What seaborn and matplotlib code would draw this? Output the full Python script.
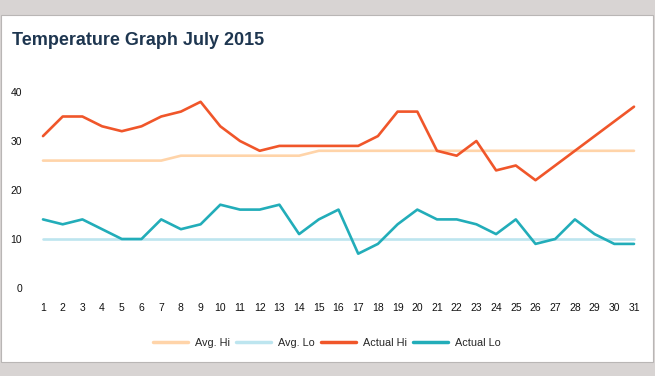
import matplotlib
matplotlib.use("Agg")
import matplotlib.pyplot as plt
import seaborn as sns
import pandas as pd
from matplotlib.patches import Rectangle
from matplotlib.lines import Line2D

days = list(range(1, 32))
avg_hi = [26]*7 + [27]*7 + [28]*17
avg_lo = [10]*31
actual_hi = [31, 35, 35, 33, 32, 33, 35, 36, 38, 33, 30, 28, 29, 29, 29, 29, 29,
             31, 36, 36, 28, 27, 30, 24, 25, 22, 25, 28, 31, 34, 37]
actual_lo = [14, 13, 14, 12, 10, 10, 14, 12, 13, 17, 16, 16, 17, 11, 14, 16, 7,
             9, 13, 16, 14, 14, 13, 11, 14, 9, 10, 14, 11, 9, 9]
series_names = ["Avg. Hi", "Avg. Lo", "Actual Hi", "Actual Lo"]
colors = ["#ffd4a9", "#bde5ef", "#f0562a", "#22adb9"]
y_ticks = [0, 10, 20, 30, 40]

rows = []
for name, vals in zip(series_names, [avg_hi, avg_lo, actual_hi, actual_lo]):
    for d, v in zip(days, vals):
        rows.append({"day": d, "temp": v, "series": name})
df = pd.DataFrame(rows)

sns.set_theme(style="white")
plt.rcParams["font.family"] = ["Liberation Sans", "DejaVu Sans"]

W, H = 655, 376
fig = plt.figure(figsize=(W/100, H/100), dpi=100)
fig.patch.set_facecolor("#d8d4d3")
# white card
card = Rectangle((0.5/W, 1 - 362/H), 652.5/W, (362-15)/H,
                 transform=fig.transFigure, facecolor="white",
                 edgecolor="#b9b6b5", linewidth=0.8, zorder=-10)
fig.add_artist(card)

x0, x1 = 43, 634
ppd = (x1 - x0) / 30
left = (x0 - 0.5*ppd) / W
width = (31*ppd) / W
y0px, y40px = 288, 92
ppu = (y0px - y40px) / 40
bottom = 1 - (y0px + 2*ppu) / H
height = (44*ppu) / H
ax = fig.add_axes([left, bottom, width, height])
ax.set_facecolor("none")
ax.set_zorder(5)

sns.lineplot(data=df, x="day", y="temp", hue="series", hue_order=series_names,
             palette=colors, linewidth=1.9, ax=ax, legend=False)

ax.set_xlim(0.5, 31.5)
ax.set_ylim(-2, 42)
ax.set_xticks(days)
ax.set_xticklabels([str(d) for d in days])
ax.set_yticks(y_ticks)
ax.set_yticklabels([str(t) for t in y_ticks])
ax.tick_params(axis="both", length=0, labelsize=7.5, colors="#111111")
ax.tick_params(axis="y", pad=8)
ax.tick_params(axis="x", pad=4)
ax.set_xlabel("")
ax.set_ylabel("")
for s in ax.spines.values():
    s.set_visible(False)

fig.text(12/W, 1 - 45/H, "Temperature Graph July 2015", fontsize=13,
         fontweight="bold", color="#1e3650", ha="left", va="baseline", zorder=6)

handles = [Line2D([], [], color=c, linewidth=2.5) for c in colors]
leg = fig.legend(handles, series_names, loc="center", bbox_to_anchor=(327/W, 1 - 343/H),
                 ncol=4, frameon=False, fontsize=7.8, handlelength=3.2,
                 handletextpad=0.65, columnspacing=0.6)
leg.set_zorder(6)

fig.savefig("out.png", dpi=100, facecolor=fig.get_facecolor())
